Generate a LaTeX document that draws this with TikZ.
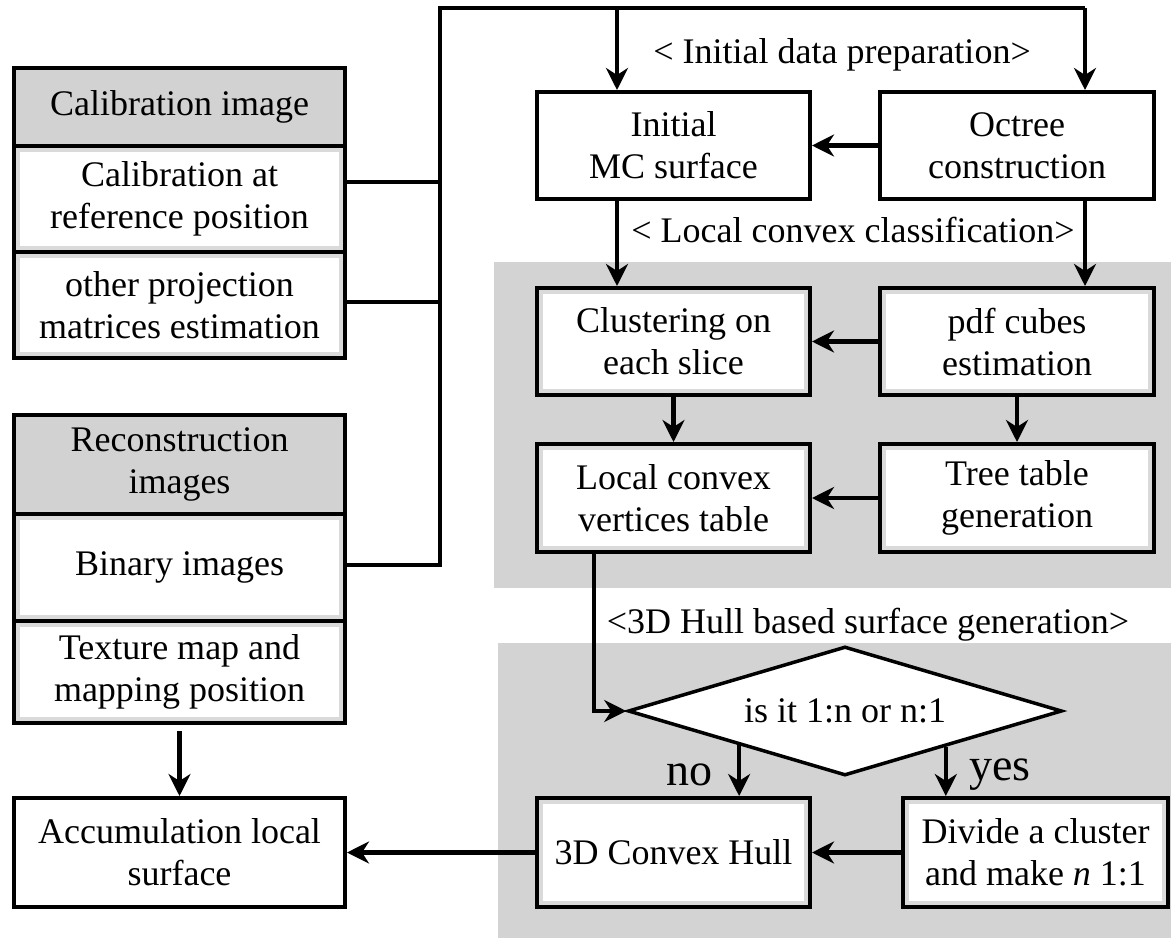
\documentclass[tikz,border=0pt]{standalone}
\usepackage{fontspec}
\setmainfont{Liberation Serif}
\usetikzlibrary{arrows.meta,shapes.geometric,calc}
\definecolor{panelgray}{HTML}{D3D3D3}
\definecolor{headgray}{HTML}{D2D2D2}
\definecolor{framegray}{HTML}{DADADA}
\begin{document}
\begin{tikzpicture}[x=1pt,y=-1pt,
  every node/.style={font=\fontsize{36}{42}\selectfont, align=center, inner sep=0pt},
  plainbox/.style={draw=black, line width=4pt, fill=white},
  framebox/.style={plainbox, path picture={\draw[line width=12pt, draw=framegray]
      (path picture bounding box.south west) rectangle (path picture bounding box.north east);}},
  headbox/.style={plainbox, fill=headgray},
  flow/.style={line width=4.5pt, -{Stealth[length=22pt,width=22pt,inset=7pt]}},
  wire/.style={line width=4pt},
  biglabel/.style={font=\fontsize{46}{50}\selectfont}]

\useasboundingbox (0,0) rectangle (1171,938);

% shaded stages
\fill[panelgray] (494,262) rectangle (1171,588);
\fill[panelgray] (498,643) rectangle (1171,938);

% calibration group
\node[headbox, minimum width=331pt, minimum height=78pt] (calhead) at (179.5,107) {Calibration image};
\node[framebox, minimum width=331pt, minimum height=106pt] (calref) at (179.5,199) {Calibration at\\reference position};
\node[framebox, minimum width=331pt, minimum height=106pt] (calother) at (179.5,305) {other projection\\matrices estimation};

% reconstruction group
\node[headbox, minimum width=331pt, minimum height=99pt] (rechead) at (179.5,464.5) {Reconstruction\\images};
\node[framebox, minimum width=331pt, minimum height=107pt] (binary) at (179.5,567.5) {Binary images};
\node[framebox, minimum width=331pt, minimum height=102pt] (texture) at (179.5,672) {Texture map and\\mapping position};

\node[plainbox, minimum width=331pt, minimum height=109pt] (accum) at (179.5,852.5) {Accumulation local\\surface};

% initial data preparation
\node[plainbox, minimum width=273pt, minimum height=107pt] (init) at (673.5,145.5) {Initial\\MC surface};
\node[plainbox, minimum width=274pt, minimum height=107pt] (octree) at (1017,145.5) {Octree\\construction};

% local convex classification
\node[framebox, minimum width=273pt, minimum height=107pt] (cluster) at (673.5,341.5) {Clustering on\\each slice};
\node[framebox, minimum width=274pt, minimum height=107pt] (pdf) at (1017,341.5) {pdf cubes\\estimation};
\node[framebox, minimum width=273pt, minimum height=108pt] (local) at (673.5,498) {Local convex\\vertices table};
\node[framebox, minimum width=274pt, minimum height=108pt] (tree) at (1017,498) {Tree table\\generation};

% surface generation
\node[diamond, aspect=3.364, draw=black, line width=3.5pt, fill=white, minimum width=434pt, minimum height=129pt] (dec) at (845,711) {is it 1:n or n:1};
\node[framebox, minimum width=273pt, minimum height=109pt] (hull) at (673.5,852.5) {3D Convex Hull};
\node[framebox, minimum width=265pt, minimum height=109pt] (divide) at (1035.5,852.5) {Divide a cluster\\and make \textit{n} 1:1};

% stage titles
\node (t1) at (842,55) {< Initial data preparation>};
\node (t2) at (853,230) {< Local convex classification>};
\node (t3) at (868,625) {<3D Hull based surface generation>};
\node[biglabel] (no) at (689,775) {no};
\node[biglabel] (yes) at (1000,775) {yes};

% input bus
\coordinate (busbot) at (440,565);
\coordinate (bustop) at (440,8);
\coordinate (j1) at (440,182);
\coordinate (j2) at (440,302);
\coordinate (top1) at (617,8);
\coordinate (top2) at (1085,8);
\draw[wire] (j1 -| calref.east) -- (j1);
\draw[wire] (j2 -| calother.east) -- (j2);
\draw[wire] (busbot -| binary.east) -- (busbot) -- (bustop) -- (top2);
\draw[flow] (top1) -- (top1 |- init.north);
\draw[flow] (top2) -- (top2 |- octree.north);

% flow between stages
\draw[flow] (octree.west) -- (init.east);
\draw[flow] (top1 |- init.south) -- (top1 |- cluster.north);
\draw[flow] (top2 |- octree.south) -- (top2 |- pdf.north);
\draw[flow] (pdf.west) -- (cluster.east);
\draw[flow] (tree.west) -- (local.east);
\draw[flow] (cluster.south) -- (local.north);
\draw[flow] (pdf.south) -- (tree.north);

\coordinate (lx) at (594,0);
\draw[flow] (local.south -| lx) |- (dec.west);
\coordinate (pno) at ($(dec.west)!0.516!(dec.south)$);
\coordinate (pyes) at ($(dec.south)!0.461!(dec.east)$);
\draw[flow] (pno) -- (pno |- hull.north);
\draw[flow] (pyes) -- (pyes |- divide.north);
\draw[flow] (divide.west) -- (hull.east);
\draw[flow] (hull.west) -- (accum.east);
\draw[flow, shorten <=6pt] (texture.south) -- (accum.north);

\end{tikzpicture}
\end{document}
